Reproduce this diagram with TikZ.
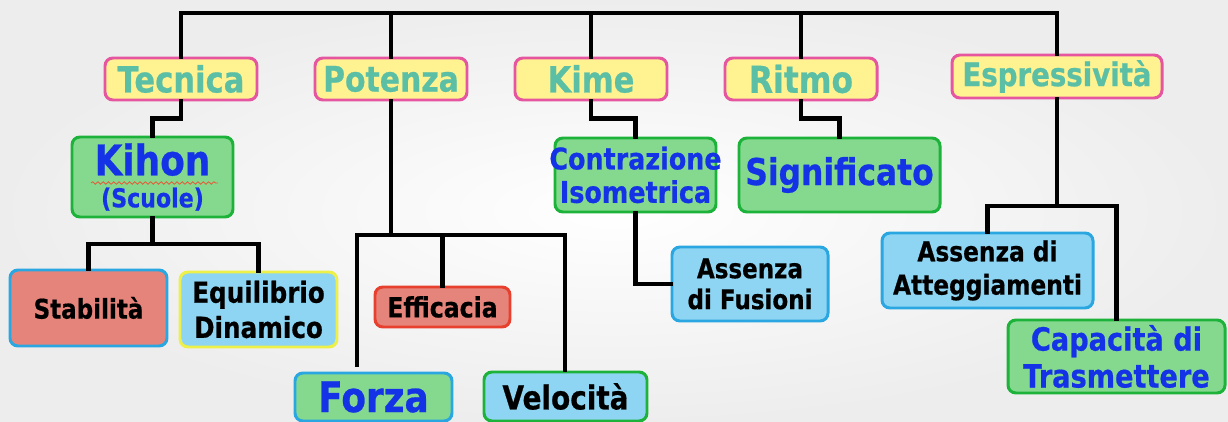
\documentclass[tikz,border=0pt]{standalone}
\usepackage{fontspec}
\setmainfont{DejaVu Sans}[FakeStretch=0.85, BoldFeatures={FakeBold=0.6}]
\usetikzlibrary{decorations.pathmorphing}
\definecolor{pinkline}{HTML}{E6559F}
\definecolor{yellowfill}{HTML}{FFF391}
\definecolor{tealtext}{HTML}{5BBFA5}
\definecolor{greenline}{HTML}{1DB33A}
\definecolor{greenfill}{HTML}{85D98F}
\definecolor{bluetext}{HTML}{1432E6}
\definecolor{blueline}{HTML}{2AA6E0}
\definecolor{bluefill}{HTML}{8DD5F2}
\definecolor{salmonfill}{HTML}{E5847A}
\definecolor{redline}{HTML}{E8402E}
\definecolor{yellowline}{HTML}{EEF04A}
\definecolor{squiggle}{HTML}{E0603A}
\tikzset{
  tagbox/.style={draw, rounded corners=4.5pt, line width=1.7pt, inner sep=0pt, align=center, font=\bfseries},
  boxsize/.style 2 args={minimum width=#1*0.02cm, minimum height=#2*0.02cm},
  topic/.style={tagbox, draw=pinkline, fill=yellowfill, text=tealtext},
  greenbox/.style={tagbox, draw=greenline, fill=greenfill, text=bluetext},
  skybox/.style={tagbox, draw=blueline, fill=bluefill},
  link/.style={line width=2.3pt, line cap=rect}
}
\begin{document}
\begin{tikzpicture}[x=0.02cm, y=-0.02cm]
     \useasboundingbox (0,0) rectangle (1228,422);
     \shade[inner color=white, outer color=black!7] (0,0) rectangle (1228,422);

     \node[topic, boxsize={152}{42}] (tec) at (181,79) {\fontsize{20.5}{24}\selectfont Tecnica};
     \node[topic, boxsize={152}{42}] (pot) at (391,79) {\fontsize{20}{24}\selectfont Potenza};
     \node[topic, boxsize={152}{42}] (kim) at (591,79) {\fontsize{20.5}{24}\selectfont Kime};
     \node[topic, boxsize={152}{42}] (rit) at (801,79) {\fontsize{21}{24}\selectfont Ritmo};
     \node[topic, boxsize={210}{43}] (esp) at (1057,76.5) {\fontsize{18.5}{22}\selectfont Espressività};

     \node[greenbox, boxsize={161}{80}, font=\bfseries\fontsize{14.8}{18.2}\selectfont] (kih) at (152.5,177)
          {{\fontsize{24}{18.2}\selectfont Kihon}\\(Scuole)};
     \node[greenbox, boxsize={161}{74}, font=\bfseries\fontsize{17}{19}\selectfont] (con) at (635.5,175)
          {\makebox[0pt]{Contrazione}\\Isometrica};
     \node[greenbox, boxsize={201}{74}] (sig) at (839.5,175) {\fontsize{21}{24}\selectfont Significato};

     \node[tagbox, draw=blueline, fill=salmonfill, boxsize={157}{76}] (sta) at (88.5,308) {\fontsize{15.4}{18}\selectfont Stabilità};
     \node[tagbox, draw=yellowline, fill=bluefill, boxsize={157}{75}, font=\bfseries\fontsize{16.5}{20}\selectfont] (equ) at (258.5,309.5)
          {Equilibrio\\Dinamico};
     \node[tagbox, draw=redline, fill=salmonfill, boxsize={135}{40}] (eff) at (442.5,307) {\fontsize{15.8}{18}\selectfont Efficacia};
     \node[tagbox, draw=blueline, fill=greenfill, text=bluetext, boxsize={157}{48}] (for) at (373.5,397) {\fontsize{24}{26}\selectfont Forza};
     \node[tagbox, draw=greenline, fill=bluefill, boxsize={163}{49}] (vel) at (565.5,396.5) {\fontsize{18.7}{22}\selectfont Velocità};

     \node[skybox, boxsize={156}{74}, font=\bfseries\fontsize{15.4}{17.6}\selectfont] (afu) at (750,284) {Assenza\\di Fusioni};
     \node[skybox, boxsize={211}{75}, font=\bfseries\fontsize{15.6}{19}\selectfont] (aat) at (987.5,270.5) {Assenza di\\Atteggiamenti};
     \node[greenbox, boxsize={217}{73}, font=\bfseries\fontsize{18.2}{21}\selectfont] (cap) at (1116.5,356.5) {Capacità di\\Trasmettere};

     \coordinate (root) at (591,13);
     \coordinate (pj) at (391,235);
     \coordinate (fe) at (357,365);
     \coordinate (ve) at (565,370);
     \coordinate (kj) at (152.5,244);
     \coordinate (ej) at (1057,206);
     \coordinate (sqa) at (91,183);
     \coordinate (sqb) at (218,183);

     \draw[link] (tec.north) |- (root) -| (esp.north);
     \draw[link] (pot.north) -- (pot.north |- root);
     \draw[link] (kim.north) -- (root);
     \draw[link] (rit.north) -- (rit.north |- root);

     \draw[link] (tec.south) -- ++(0,17) -| (kih.north);
     \draw[link] (kih.south) -- (kj);
     \draw[link] (sta.north) |- (kj) -| (equ.north);

     \draw[link] (pot.south) -- (pj);
     \draw[link] (pj) -| (fe);
     \draw[link] (pj) -| (ve);
     \draw[link] (eff.north) -- (eff.north |- pj);

     \draw[link] (kim.south) -- ++(0,17) -| (con.north);
     \draw[link] (con.south) |- (afu.west);
     \draw[link] (rit.south) -- ++(0,17) -| (sig.north);

     \draw[link] (esp.south) -- (ej);
     \draw[link] (aat.north) |- (ej) -| (cap.north);

     \draw[squiggle, line width=0.5pt, decorate, decoration={snake, amplitude=0.7pt, segment length=3pt}] (sqa) -- (sqb);
\end{tikzpicture}
\end{document}
